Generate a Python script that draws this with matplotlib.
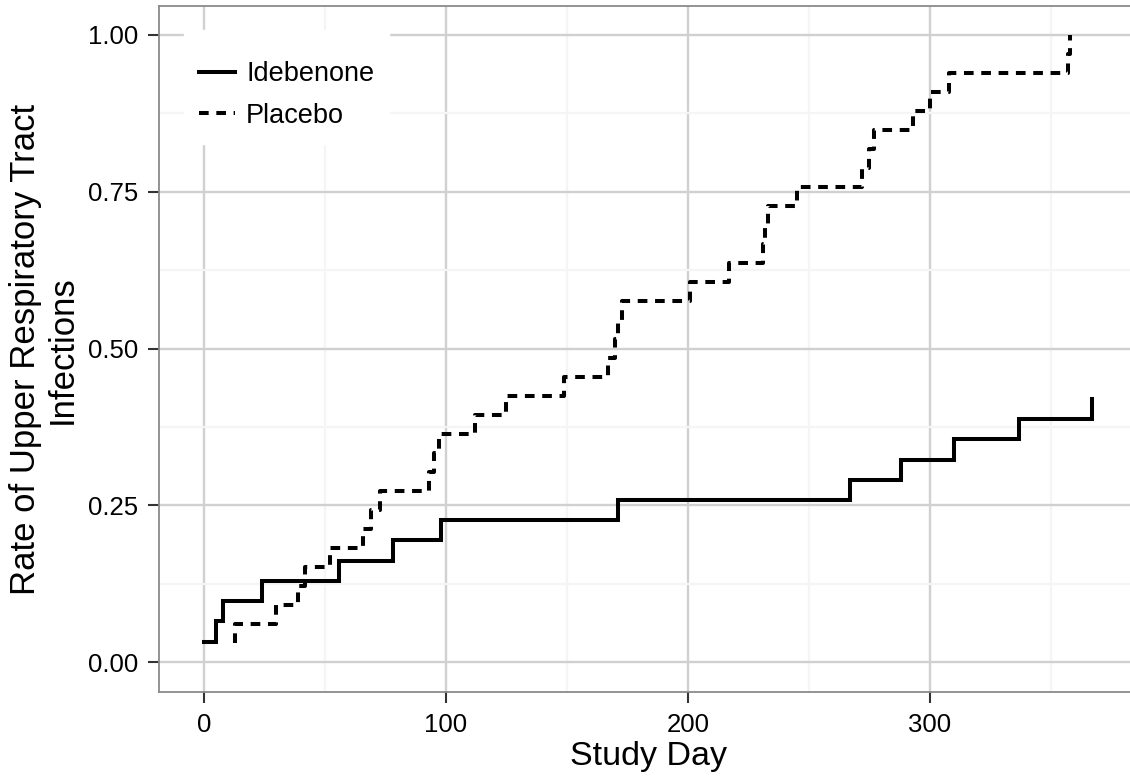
import numpy as np
import matplotlib
matplotlib.use('Agg')
import matplotlib.pyplot as plt
from matplotlib.ticker import MultipleLocator

plt.rcParams['font.family'] = ['Liberation Sans', 'DejaVu Sans']

# step data (study day, cumulative rate)
ide_day = [0, 5, 8, 24, 56, 78, 98, 171, 267, 288, 310, 337, 367]
ide_rate = [0.032, 0.065, 0.097, 0.129, 0.161, 0.194, 0.226, 0.258, 0.290, 0.323, 0.355, 0.387, 0.419]

pla_day = [13, 13, 30, 39, 42, 52, 66, 69, 73, 93, 95, 97, 112, 125, 149, 167, 170, 171, 173,
           201, 217, 231, 232, 233, 245, 272, 275, 277, 293, 300, 308, 357, 358]
pla_rate = [0.030, 0.061, 0.091, 0.121, 0.152, 0.182, 0.212, 0.242, 0.273, 0.303, 0.333, 0.364,
            0.394, 0.424, 0.455, 0.485, 0.515, 0.545, 0.576, 0.606, 0.636, 0.667, 0.697, 0.727,
            0.758, 0.788, 0.818, 0.848, 0.879, 0.909, 0.939, 0.970, 1.000]

xticks = [0, 100, 200, 300]
yticks = [0.00, 0.25, 0.50, 0.75, 1.00]
ytick_labels = ['0.00', '0.25', '0.50', '0.75', '1.00']

W, H = 1130, 778
fig = plt.figure(figsize=(W / 100, H / 100), dpi=100)
# panel in pixels: left 159, right 1137 (cropped by the image), top 6, bottom 692
ax = fig.add_axes([159.4 / W, (H - 692.3) / H, (1137 - 159.4) / W, (692.3 - 6) / H])

lw = 2.9
ax.step(ide_day, ide_rate, where='post', color='black', lw=lw, label='Idebenone', zorder=3,
        solid_joinstyle='miter')
ax.step(pla_day, pla_rate, where='post', color='black', lw=lw, label='Placebo', zorder=3,
        linestyle=(0, (2.4, 1.9)), dash_capstyle='butt')

ax.set_xlim(-18.33, 385.6)
ax.set_ylim(-0.048, 1.046)
ax.set_xticks(xticks)
ax.set_yticks(yticks)
ax.set_yticklabels(ytick_labels)
ax.xaxis.set_minor_locator(MultipleLocator(50))
ax.yaxis.set_minor_locator(MultipleLocator(0.125))

ax.grid(which='major', color='#d0d0d0', lw=1.7)
ax.grid(which='minor', color='#f5f5f5', lw=1.6)
ax.set_axisbelow(True)

for s in ax.spines.values():
    s.set_color('#8a8a8a')
    s.set_linewidth(1.3)

ax.tick_params(which='major', length=8, width=1.5, color='#333333', pad=7,
               labelsize=18.5, labelcolor='black')
ax.tick_params(which='minor', length=0)

ax.set_xlabel('Study Day', fontsize=24.5, va='baseline')
ax.xaxis.set_label_coords(0.5, (692.3 - 765) / 686.3)
ax.set_ylabel('Rate of Upper Respiratory Tract\nInfections', fontsize=25,
              ha='center', va='center', multialignment='center', linespacing=1.15)
ax.yaxis.set_label_coords((44 - 159.4) / 977.6, 0.5)

# legend with a near-empty title so the rows sit lower in the white box
leg = ax.legend(loc='upper left', bbox_to_anchor=((184 - 159.4) / 977.6, (692.3 - 30) / 686.3),
                borderaxespad=0, fontsize=19.5, frameon=True, fancybox=False,
                handlelength=1.33, handletextpad=0.41, labelspacing=0.57, borderpad=0.55,
                title=' ', title_fontsize=1)
leg.get_frame().set_facecolor('white')
leg.get_frame().set_edgecolor('white')
leg.get_frame().set_alpha(1)

fig.savefig('out.png', dpi=100)
